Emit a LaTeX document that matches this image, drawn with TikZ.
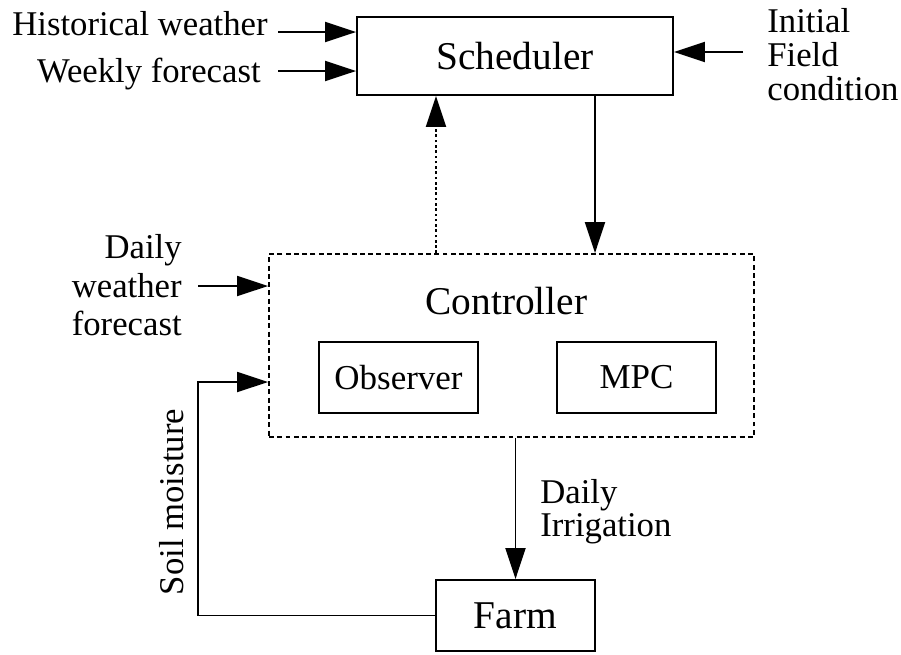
\documentclass[tikz,border=0pt]{standalone}
\usepackage{fontspec}
\setmainfont{Liberation Serif}
\usetikzlibrary{arrows.meta}
\begin{document}
\begin{tikzpicture}[x=0.02cm,y=-0.02cm,
  lw/.style={line width=1.1pt},
  bigbox/.style={draw,lw,inner sep=0pt,font=\fontsize{22.4}{26}\selectfont},
  smallbox/.style={draw,lw,inner sep=0pt,minimum width=3.18cm,minimum height=1.42cm,font=\fontsize{19.9}{23}\selectfont},
  ctrlbox/.style={draw,lw,dash pattern=on 2.8pt off 1.9pt,inner sep=0pt,minimum width=9.7cm,minimum height=3.66cm},
  lbl/.style={inner sep=0pt,font=\fontsize{19.75}{22}\selectfont},
  arr/.style={lw,-{Triangle[length=0.62cm,width=0.4cm]}},
  dotline/.style={dash pattern=on 1.5pt off 1.5pt}
]
\useasboundingbox (0,0) rectangle (901,654);

% boxes
\node[bigbox,minimum width=6.32cm,minimum height=1.56cm] (sched) at (515,56) {Scheduler};
\node[ctrlbox] (ctrl) at (511.5,345.5) {};
\node[lbl,font=\fontsize{22.4}{26}\selectfont] (ctrllbl) at (506.5,301) {Controller};
\node[smallbox] (obs) at (398.5,377.5) {Observer};
\node[smallbox] (mpc) at (636.5,377.5) {MPC};
\node[bigbox,minimum width=3.18cm,minimum height=1.42cm] (farm) at (515.5,615.5) {Farm};

% labels
\node[lbl,anchor=base east] (hist) at (268,35) {Historical weather};
\node[lbl,anchor=base east] (week) at (261,82) {Weekly forecast};
\node[lbl,anchor=north west,align=left,font=\fontsize{19.75}{19.4}\selectfont] (init) at (767,8.3) {Initial\\Field\\condition};
\node[lbl,anchor=north east,align=right,font=\fontsize{19.75}{21.9}\selectfont] (dwf) at (182,234.3) {Daily\\weather\\forecast};
\node[lbl,anchor=north west,align=left,font=\fontsize{19.75}{18.8}\selectfont] (dirr) at (540,479.3) {Daily\\Irrigation};
\node[lbl,anchor=base,rotate=90] (soil) at (183,502) {Soil moisture};

% connector helpers
\coordinate (histin) at (278,32);
\coordinate (weekin) at (278,71);
\coordinate (initin) at (743,52);
\coordinate (xdot) at (436,0);
\coordinate (xdown) at (595,0);
\coordinate (dwin) at (198,286);
\coordinate (soilx) at (198,382);

% connectors
\draw[arr] (histin) -- (histin -| sched.west);
\draw[arr] (weekin) -- (weekin -| sched.west);
\draw[arr] (initin) -- (initin -| sched.east);
\draw[arr,dotline] (xdot |- ctrl.north) -- (xdot |- sched.south);
\draw[arr] (xdown |- sched.south) -- (xdown |- ctrl.north);
\draw[arr] (dwin) -- (dwin -| ctrl.west);
\draw[arr] (farm.west) -| (soilx) -- (soilx -| ctrl.west);
\draw[arr] (farm.north |- ctrl.south) -- (farm.north);
\end{tikzpicture}
\end{document}
